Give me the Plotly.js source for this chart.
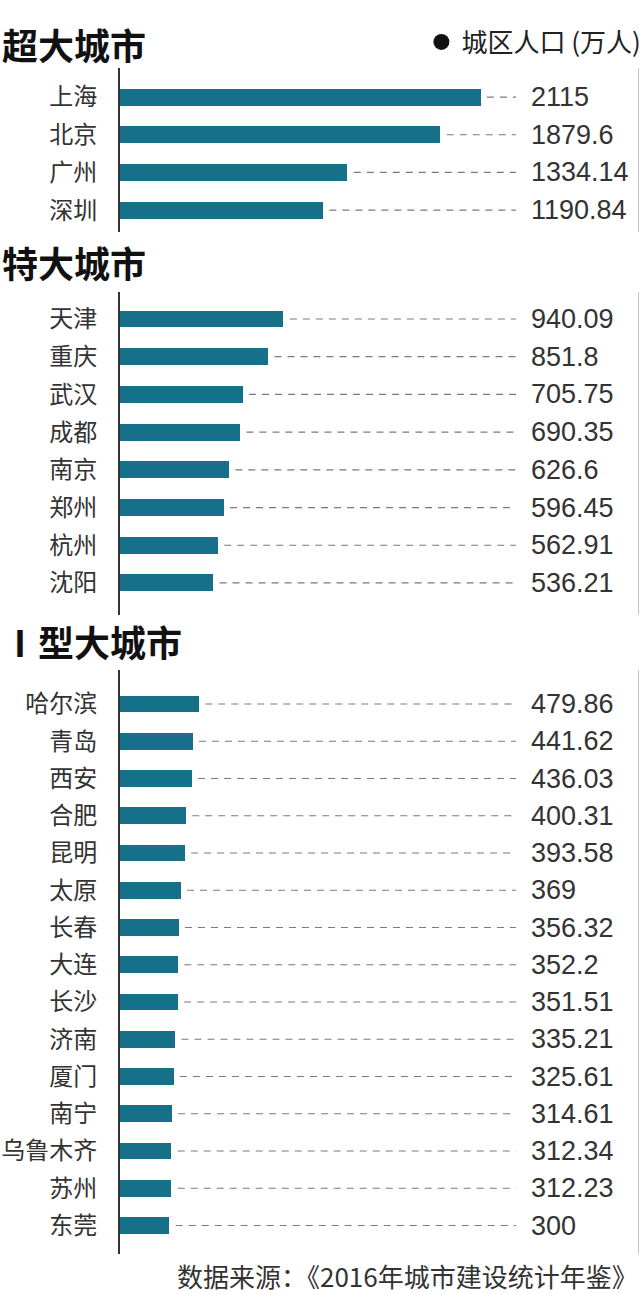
<!DOCTYPE html>
<html><head><meta charset="utf-8">
<script src="https://cdn.plot.ly/plotly-3.0.1.min.js"></script>
<style>html,body{margin:0;padding:0;background:#fff}#chart{width:640px;height:1294px}</style>
</head><body><div id="chart"></div>
<script>
// ---- data ----
const superCities = ['上海','北京','广州','深圳'];
const superValues = [2115, 1879.6, 1334.14, 1190.84];
const megaCities = ['天津','重庆','武汉','成都','南京','郑州','杭州','沈阳'];
const megaValues = [940.09, 851.8, 705.75, 690.35, 626.6, 596.45, 562.91, 536.21];
const type1Cities = ['哈尔滨','青岛','西安','合肥','昆明','太原','长春','大连','长沙','济南','厦门','南宁','乌鲁木齐','苏州','东莞'];
const type1Values = [479.86, 441.62, 436.03, 400.31, 393.58, 369, 356.32, 352.2, 351.51, 335.21, 325.61, 314.61, 312.34, 312.23, 300];
const sectionTitles = ['超大城市', '特大城市', 'Ⅰ型大城市'];
const legendLabel = '城区人口 (万人)';
const sourceText = '数据来源：《2016年城市建设统计年鉴》';

// ---- layout helpers ----
const W = 640, H = 1294;
const py = p => 1 - p / H;
const CJK = '"Noto Sans CJK SC", "Noto Sans", sans-serif';
const NUM = '"Liberation Sans", Arial, sans-serif';
const BAR = '#16708a';

const sections = [
  {cities: superCities, values: superValues, xmax: 2323, yrange: [3.58, -0.77], dom: [68, 232], titleY: 44},
  {cities: megaCities, values: megaValues, xmax: 2277, yrange: [7.85, -0.716], dom: [292, 615], titleY: 262},
  {cities: type1Cities, values: type1Values, xmax: 2407, yrange: [14.765, -0.913], dom: [670, 1254], titleY: 641}
];

const traces = [];
const annotations = [];
const shapes = [];
const layout = {
  width: W, height: H,
  margin: {l: 0, r: 0, t: 0, b: 0, autoexpand: false},
  paper_bgcolor: '#fff', plot_bgcolor: 'rgba(0,0,0,0)',
  showlegend: true,
  legend: {x: 1.01, xanchor: 'right', y: py(42), yanchor: 'middle', bgcolor: 'rgba(0,0,0,0)',
           font: {family: CJK, size: 26, color: '#222'}, borderwidth: 0},
  annotations: annotations,
  shapes: shapes,
  bargap: 0
};

sections.forEach((s, i) => {
  const k = i === 0 ? '' : String(i + 1);
  const xa = 'x' + k, ya = 'y' + k;
  traces.push({
    type: 'bar', orientation: 'h', x: s.values, y: s.cities,
    xaxis: xa, yaxis: ya, width: 0.45,
    marker: {color: BAR}, showlegend: false, hoverinfo: 'x+y'
  });
  const gap = s.xmax * 0.016;
  const dx = [], dy = [];
  s.values.forEach((v, j) => {
    if (v + gap < s.xmax * 0.985) { dx.push(v + gap, s.xmax, null); dy.push(s.cities[j], s.cities[j], null); }
  });
  traces.push({
    type: 'scatter', mode: 'lines', x: dx, y: dy, xaxis: xa, yaxis: ya,
    line: {color: '#7a7a7a', width: 1.2, dash: '7px,6px'},
    showlegend: false, hoverinfo: 'skip', connectgaps: false
  });
  s.values.forEach((v, j) => {
    annotations.push({
      xref: xa, yref: ya, x: s.xmax, y: s.cities[j], xanchor: 'left', yanchor: 'middle',
      xshift: 13, text: String(v), showarrow: false,
      font: {family: NUM, size: 27, color: '#333'}
    });
  });
  annotations.push({
    xref: 'paper', yref: 'paper', x: 0, y: py(s.titleY), xanchor: 'left', yanchor: 'middle',
    text: '<b>' + sectionTitles[i] + '</b>', showarrow: false,
    font: {family: CJK, size: 36, color: '#111'}
  });
  // right frame edge of each section
  shapes.push({type: 'line', xref: 'paper', yref: 'paper', x0: 638.5 / W, x1: 638.5 / W,
               y0: py(s.dom[0]), y1: py(s.dom[1]), line: {color: '#c4c4c4', width: 1}});
  layout['xaxis' + k] = {
    domain: [120 / W, 516 / W], range: [0, s.xmax], anchor: ya,
    showgrid: false, zeroline: false, showticklabels: false, showline: false, ticks: '', fixedrange: true
  };
  layout['yaxis' + k] = {
    domain: [py(s.dom[1]), py(s.dom[0])], anchor: xa, type: 'category',
    range: s.yrange, showline: true, linecolor: '#333', linewidth: 2,
    ticks: '', ticklabelstandoff: 16, showgrid: false, zeroline: false, fixedrange: true,
    tickfont: {family: CJK, size: 24, color: '#333'}
  };
});

// legend entry
traces.push({
  type: 'scatter', mode: 'markers', x: [null], y: [null], name: legendLabel,
  marker: {color: '#111', size: 18, symbol: 'circle'}, hoverinfo: 'skip'
});

annotations.push({
  xref: 'paper', yref: 'paper', x: 639 / W, y: py(1275), xanchor: 'right', yanchor: 'middle',
  text: sourceText, showarrow: false, borderpad: 0, font: {family: CJK, size: 26, color: '#333'}
});

Plotly.newPlot('chart', traces, layout, {displayModeBar: false, staticPlot: true});
</script>
</body></html>
